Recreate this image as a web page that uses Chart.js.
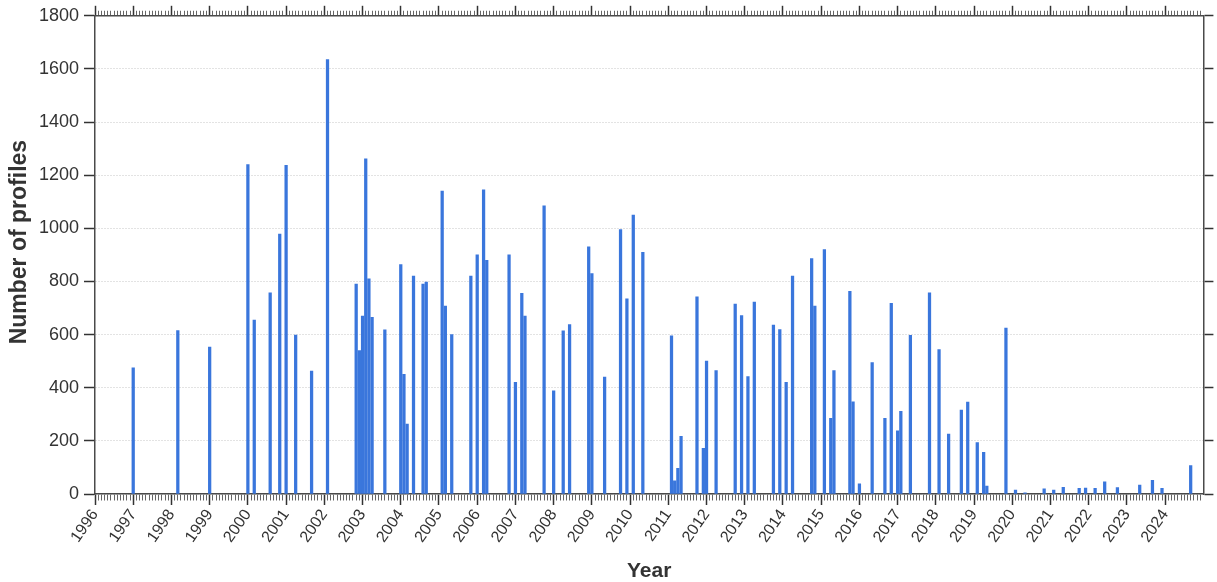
<!DOCTYPE html>
<html>
<head>
<meta charset="utf-8">
<script src="https://cdn.jsdelivr.net/npm/chart.js@4.4.0/dist/chart.umd.min.js"></script>
<style>
  html, body { margin: 0; padding: 0; background: #ffffff; }
  #wrap { width: 1217px; height: 582px; }
</style>
</head>
<body>
<div id="wrap"><canvas id="c" width="1217" height="582"></canvas></div>
<script>
// ---- Data ----
const months = ["1997-01","1998-03","1999-01","2000-01","2000-03","2000-08","2000-11","2001-01","2001-04","2001-09",
  "2002-02","2002-11","2002-12","2003-01","2003-02","2003-03","2003-04","2003-08","2004-01","2004-02",
  "2004-03","2004-05","2004-08","2004-09","2005-02","2005-03","2005-05","2005-11","2006-01","2006-03",
  "2006-04","2006-11","2007-01","2007-03","2007-04","2007-10","2008-01","2008-04","2008-06","2008-12",
  "2009-01","2009-05","2009-10","2009-12","2010-02","2010-05","2011-02","2011-03","2011-04","2011-05",
  "2011-10","2011-12","2012-01","2012-04","2012-10","2012-12","2013-02","2013-04","2013-10","2013-12",
  "2014-02","2014-04","2014-10","2014-11","2015-02","2015-04","2015-05","2015-10","2015-11","2016-01",
  "2016-05","2016-09","2016-11","2017-01","2017-02","2017-05","2017-11","2018-02","2018-05","2018-09",
  "2018-11","2019-02","2019-04","2019-05","2019-11","2020-02","2020-05","2020-11","2021-02","2021-05",
  "2021-10","2021-12","2022-03","2022-06","2022-10","2023-05","2023-09","2023-12","2024-09"];
const profiles = [475,615,553,1240,655,757,978,1237,598,463,
  1635,790,540,670,1262,810,665,618,864,450,
  263,820,790,798,1140,707,600,820,900,1145,
  880,900,420,755,670,1085,388,614,638,930,
  830,440,995,735,1050,910,595,50,97,217,
  742,172,500,465,715,672,442,722,636,619,
  420,820,886,707,920,285,465,763,347,38,
  495,285,718,238,311,597,757,544,226,316,
  346,194,157,30,625,15,4,19,15,25,
  21,22,21,46,24,34,51,21,107];
const yearTicks = [1996,1997,1998,1999,2000,2001,2002,2003,2004,2005,2006,2007,2008,2009,2010,
  2011,2012,2013,2014,2015,2016,2017,2018,2019,2020,2021,2022,2023,2024];
const yTicks = [0,200,400,600,800,1000,1200,1400,1600,1800];

const xMin = 1996, xMax = 2025;
const points = months.map((s, i) => {
  const [yy, mm] = s.split('-').map(Number);
  return { x: yy + (mm - 1) / 12, y: profiles[i] };
});

const isYear = v => Math.abs(v - Math.round(v)) < 1e-6;
const monthTicks = (scale) => {
  const t = [];
  for (let m = 0; m < (xMax - xMin) * 12; m++) t.push({ value: xMin + m / 12 });
  scale.ticks = t;
};

const FONT = "'Liberation Sans', Arial, sans-serif";
const AXIS = '#4a4a4a';

new Chart(document.getElementById('c'), {
  type: 'bar',
  data: {
    datasets: [{
      data: points,
      backgroundColor: '#3a76dc',
      borderWidth: 0,
      barThickness: 2.6,
      xAxisID: 'x',
      yAxisID: 'y'
    }]
  },
  options: {
    responsive: false,
    animation: false,
    layout: { padding: 0 },
    plugins: { legend: { display: false }, tooltip: { enabled: false } },
    scales: {
      x: {
        type: 'linear', position: 'bottom', min: xMin, max: xMax, offset: false,
        afterBuildTicks: monthTicks,
        afterFit: s => { s.height = 88; },
        grid: {
          offset: false, drawOnChartArea: false, drawTicks: true, tickLength: 11,
          tickColor: c => isYear(c.tick.value) ? '#333' : '#666',
          tickWidth: c => isYear(c.tick.value) ? 1.5 : 1,
          tickBorderDash: c => isYear(c.tick.value) ? [] : [6, 20]
        },
        border: { display: true, color: AXIS, width: 1.5 },
        ticks: {
          autoSkip: false, minRotation: 55, maxRotation: 55, padding: 1,
          color: '#333', font: { family: FONT, size: 16 },
          callback: v => (isYear(v) && yearTicks.includes(Math.round(v))) ? String(Math.round(v)) : ''
        },
        title: { display: true, text: 'Year', color: '#333', padding: { top: 0, bottom: 0 },
                 font: { family: FONT, size: 21, weight: 'bold', lineHeight: 1 } }
      },
      xTop: {
        type: 'linear', position: 'top', min: xMin, max: xMax, offset: false,
        afterBuildTicks: monthTicks,
        afterFit: s => { s.height = 15; },
        grid: {
          offset: false, drawOnChartArea: false, drawTicks: true, tickLength: 10,
          tickColor: c => isYear(c.tick.value) ? '#333' : '#666',
          tickWidth: c => isYear(c.tick.value) ? 1.5 : 1,
          tickBorderDash: c => isYear(c.tick.value) ? [] : [5, 5],
          tickBorderDashOffset: c => isYear(c.tick.value) ? 0 : 5
        },
        border: { display: true, color: AXIS, width: 1.5 },
        ticks: { display: false, autoSkip: false }
      },
      y: {
        type: 'linear', position: 'left', min: 0, max: 1800,
        afterBuildTicks: s => { s.ticks = yTicks.map(v => ({ value: v })); },
        afterFit: s => { s.width = 95; },
        grid: {
          drawOnChartArea: true, drawTicks: true, tickLength: 11,
          color: '#c6c6c6', lineWidth: 1, tickColor: '#333', tickWidth: 1.5
        },
        border: { display: true, color: AXIS, width: 1.5, dash: [1, 2] },
        ticks: { padding: 5, color: '#333', font: { family: FONT, size: 18 },
                 callback: v => String(v) },
        title: { display: true, text: '    Number of profiles', color: '#333',
                 padding: { top: 6, bottom: 0 },
                 font: { family: FONT, size: 23, weight: 'bold' } }
      },
      yRight: {
        type: 'linear', position: 'right', min: 0, max: 1800,
        afterBuildTicks: s => { s.ticks = yTicks.map(v => ({ value: v })); },
        afterFit: s => { s.width = 10; },
        grid: { drawOnChartArea: false, drawTicks: true, tickLength: 10, tickColor: '#333', tickWidth: 1.5 },
        border: { display: true, color: AXIS, width: 1.5 },
        ticks: { display: false }
      }
    }
  }
});
</script>
</body>
</html>
